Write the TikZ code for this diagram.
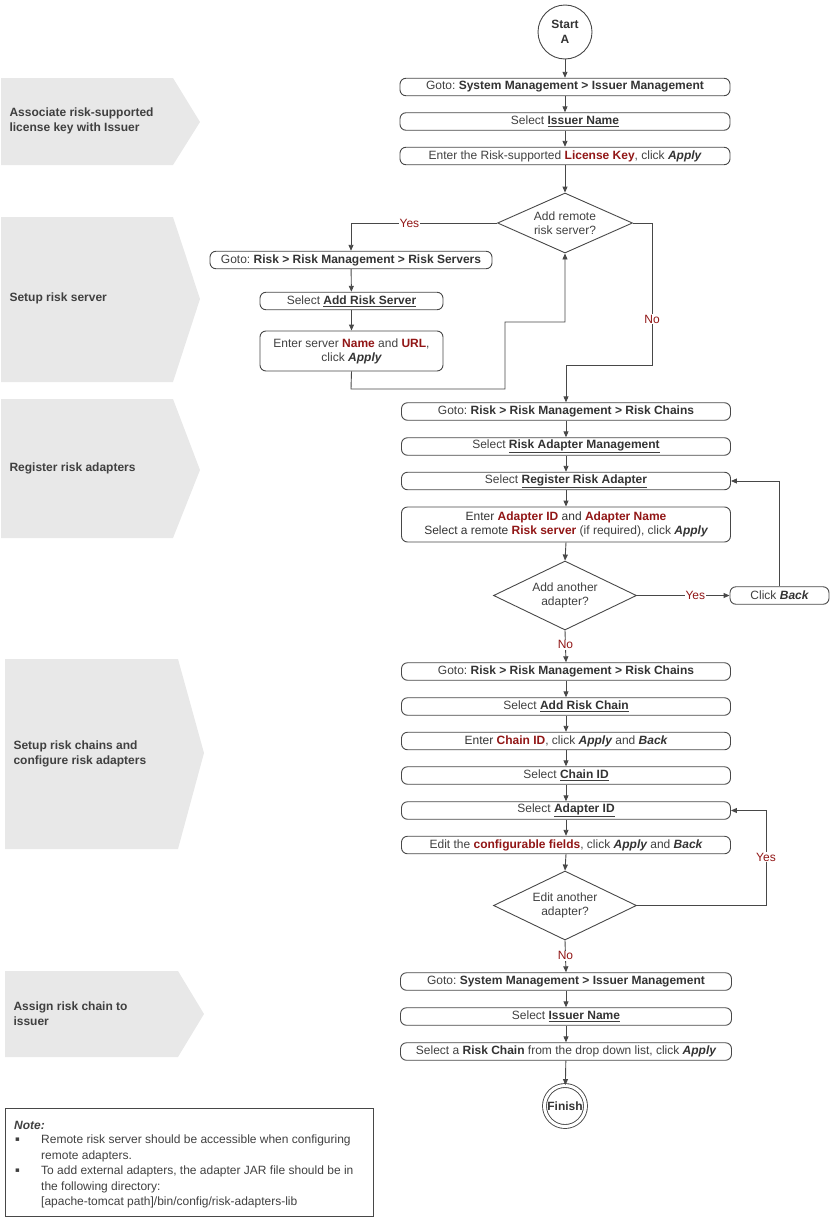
\documentclass[tikz,border=0pt]{standalone}
\usepackage{fontspec}
\setmainfont{Liberation Sans}
\newfontfamily\dejavu{DejaVu Sans}
\usetikzlibrary{shapes.geometric,arrows.meta}
\definecolor{redc}{RGB}{145,22,22}
\definecolor{linec}{RGB}{72,72,72}
\definecolor{txtc}{RGB}{64,64,64}
\definecolor{boldc}{RGB}{51,51,51}
\definecolor{phasec}{RGB}{232,232,232}
\newcommand\myred[1]{\textbf{\textcolor{redc}{#1}}}
\newcommand\myul[1]{\underline{\textbf{\textcolor{boldc}{#1}}}}
\newcommand\mybi[1]{\textbf{\textit{\textcolor{boldc}{#1}}}}
\newcommand\mybf[1]{\textbf{\textcolor{boldc}{#1}}}
\frenchspacing
\begin{document}
\begin{tikzpicture}[x=1pt,y=-1pt,
  every node/.style={font=\fontsize{12}{14}\selectfont, text=txtc},
  box/.style={draw=linec, line width=0.9pt, rounded corners=6pt, minimum height=17.5pt, inner sep=0pt, align=center},
  dia/.style={draw=linec, line width=0.9pt, diamond, aspect=2.2, inner sep=0pt, align=center},
  arr/.style={draw=linec, line width=0.9pt, -{Triangle[length=6pt,width=5pt]}},
  ln/.style={draw=linec, line width=0.9pt},
  lbl/.style={text=redc, fill=white, inner sep=1pt},
  phase/.style={fill=phasec, draw=none},
  phtxt/.style={anchor=west, align=left, font=\bfseries\fontsize{12}{15}\selectfont, text=txtc},
  notetxt/.style={anchor=west, inner sep=0pt, text=txtc}
]
\useasboundingbox (0,0) rectangle (831,1218);

% phase arrows
\path[phase] (1,78) -- (173,78) -- (200,122) -- (173,165) -- (1,165) -- cycle;
\path[phase] (1,217) -- (173,217) -- (200,299) -- (173,382) -- (1,382) -- cycle;
\path[phase] (1,399) -- (173,399) -- (200,470) -- (173,538) -- (1,538) -- cycle;
\path[phase] (5,659) -- (178,659) -- (204,753) -- (178,849) -- (5,849) -- cycle;
\path[phase] (5,971) -- (178,971) -- (204,1014) -- (178,1057) -- (5,1057) -- cycle;
\node[phtxt] (p1) at (6,120.5) {Associate risk-supported\\license key with Issuer};
\node[phtxt] (p2) at (6,298) {Setup risk server};
\node[phtxt] (p3) at (6,468) {Register risk adapters};
\node[phtxt] (p4) at (10,753.5) {Setup risk chains and\\configure risk adapters};
\node[phtxt] (p5) at (10,1013.5) {Assign risk chain to\\issuer};

% start
\node[draw=linec, line width=0.9pt, circle, minimum size=54pt, inner sep=0pt, align=center, font=\bfseries\fontsize{12}{15}\selectfont, text=boldc] (start) at (565,32) {Start\\A};

% section 1
\node[box, minimum width=330pt] (b1) at (565,87) {Goto: \mybf{System Management > Issuer Management}};
\node[box, minimum width=330pt] (b2) at (565,121.5) {Select \myul{Issuer Name}};
\node[box, minimum width=330pt] (b3) at (565,156) {Enter the Risk-supported \myred{License Key}, click \mybi{Apply}};
\node[dia, minimum width=135pt, minimum height=60pt] (d1) at (565,223) {Add remote\\risk server?};

% risk server
\node[box, minimum width=282pt] (s1) at (351,260) {Goto: \mybf{Risk > Risk Management > Risk Servers}};
\node[box, minimum width=183pt] (s2) at (351.5,301) {Select \myul{Add Risk Server}};
\node[box, minimum width=183pt, minimum height=40pt] (s3) at (351.5,351) {Enter server \myred{Name} and \myred{URL},\\click \mybi{Apply}};

% register adapters
\node[box, minimum width=329pt] (r1) at (566,411.5) {Goto: \mybf{Risk > Risk Management > Risk Chains}};
\node[box, minimum width=329pt] (r2) at (566,446.5) {Select \myul{Risk Adapter Management}};
\node[box, minimum width=329pt] (r3) at (566,481) {Select \myul{Register Risk Adapter}};
\node[box, minimum width=329pt, minimum height=35pt] (r4) at (566,524.5) {\textcolor{boldc}{Enter} \myred{Adapter ID} \textcolor{boldc}{and} \myred{Adapter Name}\\\textcolor{boldc}{Select a remote} \myred{Risk server} (if required), click \mybi{Apply}};
\node[dia, minimum width=143pt, minimum height=69pt] (d2) at (565,595.5) {Add another\\adapter?};
\node[box, minimum width=99pt] (back) at (779.5,595.5) {Click \mybi{Back}};

% chains
\node[box, minimum width=329pt] (c1) at (566,671.5) {Goto: \mybf{Risk > Risk Management > Risk Chains}};
\node[box, minimum width=329pt] (c2) at (566,706.5) {Select \myul{Add Risk Chain}};
\node[box, minimum width=329pt] (c3) at (566,741) {\textcolor{boldc}{Enter} \myred{Chain ID}, click \mybi{Apply} and \mybi{Back}};
\node[box, minimum width=329pt] (c4) at (566,775.5) {Select \myul{Chain ID}};
\node[box, minimum width=329pt] (c5) at (566,810.5) {Select \myul{Adapter ID}};
\node[box, minimum width=329pt] (c6) at (566,845) {Edit the \myred{configurable fields}, click \mybi{Apply} and \mybi{Back}};
\node[dia, minimum width=143pt, minimum height=69pt] (d3) at (565,905.5) {Edit another\\adapter?};

% assign
\node[box, minimum width=331pt] (a1) at (566,981.5) {Goto: \mybf{System Management > Issuer Management}};
\node[box, minimum width=331pt] (a2) at (566,1016.5) {Select \myul{Issuer Name}};
\node[box, minimum width=331pt] (a3) at (566,1051.5) {Select a \mybf{Risk Chain} from the drop down list, click \mybi{Apply}};
\node[draw=linec, line width=0.9pt, double, double distance=3pt, circle, minimum size=41pt, inner sep=0pt, font=\bfseries\fontsize{12}{14}\selectfont, text=boldc] (fin) at (565,1106) {Finish};

% connectors
\draw[arr] (start) -- (b1);
\draw[arr] (b1) -- (b2);
\draw[arr] (b2) -- (b3);
\draw[arr] (b3) -- (d1);
\draw[arr] (d1.west) -| node[lbl, pos=0.3] (y1) {Yes} (s1.north);
\draw[arr] (s1) -- (s2);
\draw[arr] (s2) -- (s3);
\coordinate (k1) at (351,389);
\coordinate (k2) at (505,389);
\coordinate (k3) at (505,322);
\coordinate (k4) at (565,322);
\draw[arr] (s3.south) -- (k1) -- (k2) -- (k3) -- (k4) -- (d1.south);
\coordinate (n1) at (652,365);
\draw[arr] (d1.east) -| (n1) -| (r1.north);
\node[lbl] (no1) at (652,319) {No};
\draw[arr] (r1) -- (r2);
\draw[arr] (r2) -- (r3);
\draw[arr] (r3) -- (r4);
\draw[arr] (r4.south) -- (d2.north);
\draw[arr] (d2.east) -- node[lbl, pos=0.63] (y2) {Yes} (back.west);
\draw[arr] (back.north) |- (r3.east);
\draw[arr] (d2.south) -- node[lbl, pos=0.45] (no2) {No} (c1.north);
\draw[arr] (c1) -- (c2);
\draw[arr] (c2) -- (c3);
\draw[arr] (c3) -- (c4);
\draw[arr] (c4) -- (c5);
\draw[arr] (c5) -- (c6);
\draw[arr] (c6.south) -- (d3.north);
\coordinate (y3c) at (766,810.5);
\draw[arr] (d3.east) -| (y3c) -- (c5.east);
\node[lbl] (y3) at (766,857) {Yes};
\draw[arr] (d3.south) -- node[lbl, pos=0.48] (no3) {No} (a1.north);
\draw[arr] (a1) -- (a2);
\draw[arr] (a2) -- (a3);
\draw[arr] (a3) -- (fin);

% note
\node[draw=linec, line width=0.9pt, rectangle, minimum width=368pt, minimum height=108pt, anchor=north west, inner sep=0pt] (note) at (5,1108) {};
\node[notetxt, font=\bfseries\itshape\fontsize{12}{14}\selectfont] (nt0) at (14,1125) {Note:};
\node[notetxt, font=\dejavu\fontsize{7}{8}\selectfont] (bu1) at (15,1140) {▪};
\node[notetxt, font=\dejavu\fontsize{7}{8}\selectfont] (bu2) at (15,1171) {▪};
\node[notetxt] (nt1) at (41,1140) {Remote risk server should be accessible when configuring};
\node[notetxt] (nt2) at (41,1156) {remote adapters.};
\node[notetxt] (nt3) at (41,1171) {To add external adapters, the adapter JAR file should be in};
\node[notetxt] (nt4) at (41,1187) {the following directory:};
\node[notetxt] (nt5) at (41,1202) {[apache-tomcat path]/bin/config/risk-adapters-lib};
\end{tikzpicture}
\end{document}
